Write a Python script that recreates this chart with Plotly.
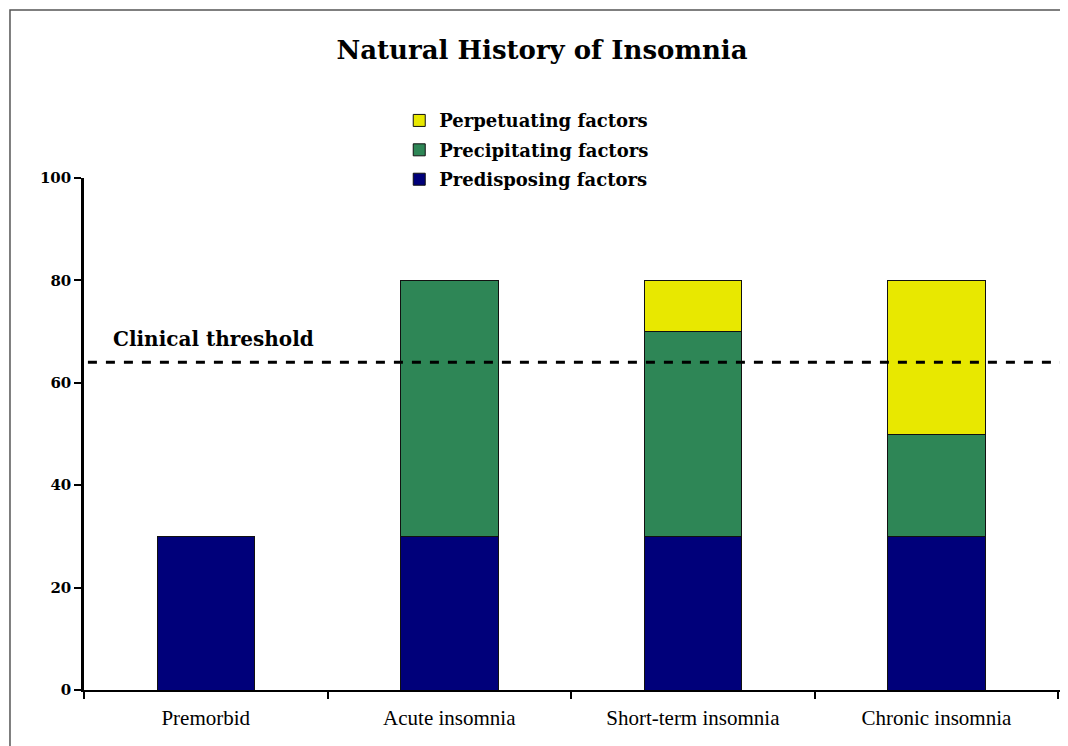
import plotly.graph_objects as go

stages = ['Premorbid', 'Acute insomnia', 'Short-term insomnia', 'Chronic insomnia']
predisposing = [30, 30, 30, 30]
precipitating = [0, 50, 40, 20]
perpetuating = [0, 0, 10, 30]
threshold = 64
y_ticks = [0, 20, 40, 60, 80, 100]

serif = 'Liberation Serif, serif'
wide_serif = 'DejaVu Serif, serif'

fig = go.Figure()
fig.add_trace(go.Bar(name='Predisposing factors', x=stages, y=predisposing, legendgroup='a', legendrank=3,
                     marker=dict(color='#00007a', line=dict(color='#111111', width=1))))
fig.add_trace(go.Bar(name='Precipitating factors', x=stages, y=precipitating, legendgroup='b', legendrank=2,
                     marker=dict(color='#2e8656', line=dict(color='#111111', width=1))))
fig.add_trace(go.Bar(name='Perpetuating factors', x=stages, y=perpetuating, legendgroup='c', legendrank=1,
                     marker=dict(color='#e8e800', line=dict(color='#111111', width=1))))

# clinical threshold line + label
fig.add_shape(type='line', xref='paper', yref='y', x0=0.004, x1=1.02, y0=threshold, y1=threshold,
              line=dict(color='black', width=3, dash='dash'))
fig.add_annotation(text='Clinical threshold', xref='paper', yref='y', x=0.028, y=threshold,
                   xanchor='left', yanchor='bottom', yshift=9, showarrow=False,
                   font=dict(family=wide_serif, size=20, color='black', weight='bold'))

# frame around the picture (page has an 8px body margin)
fig.add_shape(type='rect', xref='paper', yref='paper', x0=-0.0756, x1=1.03, y0=-0.3, y1=1.328,
              line=dict(color='#555555', width=1.5), fillcolor='rgba(0,0,0,0)', layer='below')

fig.update_layout(
    barmode='stack', bargap=0.6,
    width=1068, height=746,
    margin=dict(l=76, r=13, t=170, b=64),
    paper_bgcolor='white', plot_bgcolor='white',
    title=dict(text='Natural History of Insomnia', x=0.5, xanchor='center', y=0.944, yanchor='middle',
               font=dict(family=wide_serif, size=26, color='black', weight='bold')),
    legend=dict(traceorder='grouped', tracegroupgap=3, x=0.322, y=1.148, xanchor='left', yanchor='top',
                font=dict(family=wide_serif, size=18, color='black', weight='bold'), bgcolor='rgba(0,0,0,0)',
                itemwidth=30),
    showlegend=True,
    xaxis=dict(showline=True, linecolor='black', linewidth=2, ticks='outside', tickson='boundaries',
               ticklen=7, tickwidth=2, tickcolor='black', range=[-0.5, 3.52], ticklabelstandoff=8,
               tickfont=dict(family=serif, size=21, color='black')),
    yaxis=dict(range=[0, 100], tickvals=y_ticks, showline=True, linecolor='black', linewidth=2.5,
               ticks='outside', ticklen=7, tickwidth=2, tickcolor='black', showgrid=False, zeroline=False,
               tickfont=dict(family=wide_serif, size=15, color='black', weight='bold')),
)

fig.write_html("out.html")
